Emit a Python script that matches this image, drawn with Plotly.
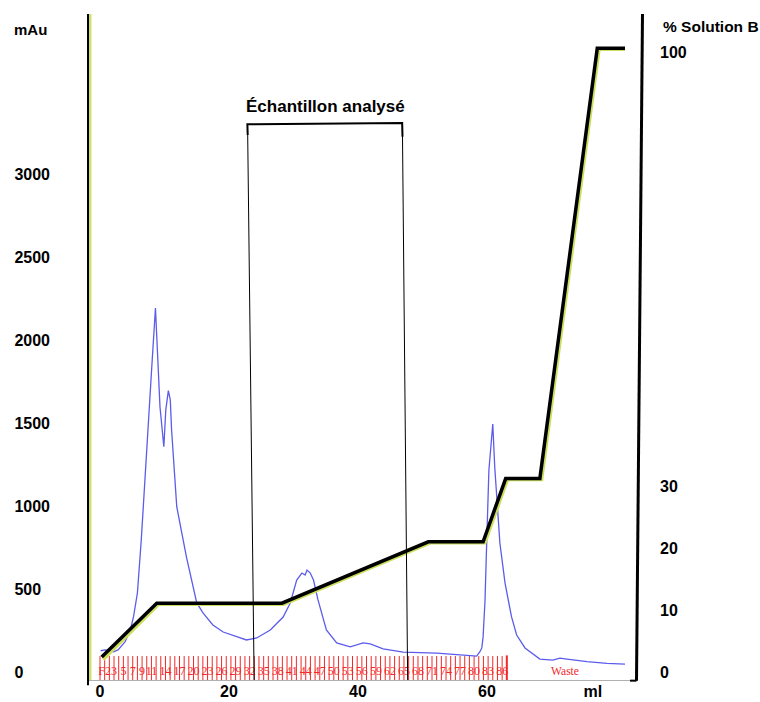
import plotly.graph_objects as go

# ---- UV absorbance trace (elution volume in ml, absorbance in mAu) ----
uv_ml = [0.1, 0.8, 2.1, 2.8, 3.9, 4.7, 5.2, 5.8, 6.4, 7.0, 8.0, 8.6, 8.9, 9.3, 9.9,
         10.2, 10.6, 10.9, 11.1, 11.6, 11.9, 12.6, 13.4, 15.0, 16.0, 17.5, 19.1,
         21.2, 22.7, 24.3, 26.4, 28.4, 29.5, 30.5, 31.3, 31.8, 32.1, 32.6, 33.1,
         33.8, 35.1, 36.7, 38.8, 40.8, 41.9, 43.9, 47.0, 52.2, 57.4, 58.4, 58.9,
         59.2, 59.4, 59.7, 60.0, 60.3, 60.9, 61.2, 62.0, 62.8, 63.8, 64.6, 65.9,
         68.2, 70.2, 71.3, 72.4, 75.5, 78.6, 81.4]
uv_mau = [128, 133, 122, 133, 183, 253, 333, 476, 795, 1157, 1819, 2193, 1960, 1598,
          1357, 1578, 1695, 1639, 1458, 1157, 996, 855, 694, 416, 355, 283, 241,
          213, 193, 205, 253, 331, 416, 554, 596, 584, 614, 596, 554, 434, 253,
          175, 151, 175, 169, 139, 120, 114, 96, 96, 122, 145, 213, 434, 837, 1217,
          1494, 1237, 777, 536, 333, 223, 145, 78, 72, 83, 77, 62, 52, 48]

# ---- Programmed gradient, % Solution B ----
grad_ml = [0.26, 8.8, 28.2, 50.9, 59.4, 62.9, 68.2, 77.1, 81.4]
grad_pct = [2.4, 11.1, 11.1, 21.0, 21.0, 31.2, 31.2, 100.6, 100.6]

# ---- Measured gradient (lags slightly behind the programmed one) ----
cond_ml = [0.5, 9.1, 28.5, 51.2, 59.7, 63.2, 68.5, 77.4, 81.4]
cond_pct = [2.0, 10.9, 10.9, 20.8, 20.8, 31.0, 31.0, 100.4, 100.4]

# ---- Fraction collector ----
fraction_volume_ml = 0.725
n_fractions = 87
fraction_label_nums = [1, 3, 5, 7, 9, 11, 14, 17, 20, 23, 26, 29, 32, 35, 38, 41,
                       44, 47, 50, 53, 56, 59, 62, 65, 68, 71, 74, 77, 80, 83, 86]
fraction_label_text = ["F2", "3", "5", "7", "9", "11", "14", "17", "20", "23", "26",
                       "29", "32", "35", "38", "41", "44", "47", "50", "53", "56",
                       "59", "62", "65", "68", "71", "74", "77", "80", "83", "86"]
waste_ml = 72.1

# ---- Axis ticks ----
x_tick_vals = [0, 20, 40, 60]
x_tick_text = ["0", "20", "40", "60"]
x_unit_pos = 76.4
y_left_ticks = [0, 500, 1000, 1500, 2000, 2500, 3000]
y_right_ticks = [0, 10, 20, 30, 100]

# Sample window analysed (ml)
sample_start_ml = (22.9, 23.9)
sample_end_ml = (46.9, 47.7)

FONT = "Liberation Sans, Arial, sans-serif"
SERIF = "Liberation Serif, Times New Roman, serif"
RED = "rgb(242,40,40)"

X_RANGE = [-1.86, 83.26]
Y_RANGE = [-48.2, 3964]
Y2_RANGE = [-1.29, 106.13]

fig = go.Figure()

# fraction boundary marks
frac_x, frac_y = [], []
for k in range(n_fractions):
    v = k * fraction_volume_ml
    frac_x += [v, v, None]
    frac_y += [96, Y_RANGE[0], None]
fig.add_trace(go.Scatter(x=frac_x, y=frac_y, mode="lines",
                         line=dict(color=RED, width=1), hoverinfo="skip",
                         showlegend=False))
end_v = n_fractions * fraction_volume_ml
fig.add_trace(go.Scatter(x=[end_v, end_v], y=[100, Y_RANGE[0]], mode="lines",
                         line=dict(color=RED, width=2), hoverinfo="skip",
                         showlegend=False))
fig.add_trace(go.Scatter(x=[n * fraction_volume_ml for n in fraction_label_nums],
                         y=[0] * len(fraction_label_nums), mode="text",
                         text=fraction_label_text,
                         textfont=dict(family=SERIF, size=12, color=RED),
                         hoverinfo="skip", showlegend=False))
fig.add_trace(go.Scatter(x=[waste_ml], y=[0], mode="text", text=["Waste"],
                         textfont=dict(family=SERIF, size=11.5, color=RED),
                         hoverinfo="skip", showlegend=False))

# UV trace
fig.add_trace(go.Scatter(x=uv_ml, y=uv_mau, mode="lines",
                         line=dict(color="rgb(92,92,236)", width=1.3),
                         showlegend=False))

# gradient traces on the right axis
fig.add_trace(go.Scatter(x=cond_ml, y=cond_pct, mode="lines", yaxis="y2",
                         line=dict(color="rgb(205,222,95)", width=3),
                         showlegend=False))
fig.add_trace(go.Scatter(x=grad_ml, y=grad_pct, mode="lines", yaxis="y2",
                         line=dict(color="black", width=3.5),
                         showlegend=False))

shapes = [
    # left axis line with its yellow-green companion
    dict(type="line", xref="paper", yref="paper", x0=0.0036, x1=0.0036, y0=0, y1=1,
         line=dict(color="rgb(212,224,110)", width=3), layer="below"),
    dict(type="line", xref="paper", yref="paper", x0=0, x1=0, y0=-0.008, y1=1,
         line=dict(color="black", width=2)),
    # right axis line
    dict(type="line", xref="paper", yref="paper", x0=1.010, x1=0.9991, y0=1, y1=-0.001,
         line=dict(color="black", width=3)),
    dict(type="line", xref="paper", yref="paper", x0=0.9873, x1=0.9991, y0=-0.001,
         y1=-0.001, line=dict(color="black", width=2)),
    # sample window bracket
    dict(type="line", xref="x", yref="y", x0=sample_start_ml[0], x1=sample_start_ml[1],
         y0=3235, y1=Y_RANGE[0], line=dict(color="black", width=1)),
    dict(type="line", xref="x", yref="y", x0=sample_end_ml[0], x1=sample_end_ml[1],
         y0=3235, y1=Y_RANGE[0], line=dict(color="black", width=1)),
    dict(type="path", xref="x", yref="y",
         path=f"M {sample_start_ml[0]},3235 L {sample_start_ml[0] - 0.05},3300 "
              f"L {sample_end_ml[0] - 0.05},3307 L {sample_end_ml[0]},3225",
         line=dict(color="black", width=2)),
]

annotations = [
    dict(text="<b>mAu</b>", xref="paper", yref="paper", x=-0.1056, y=0.976,
         showarrow=False, font=dict(family=FONT, size=15, color="black"),
         xanchor="center", yanchor="middle"),
    dict(text="<b>% Solution B</b>", xref="paper", yref="paper", x=1.0437, y=0.9805,
         showarrow=False, font=dict(family=FONT, size=15.5, color="black"),
         xanchor="left", yanchor="middle"),
    dict(text="<b>Échantillon analysé</b>", xref="x", yref="y",
         x=(sample_start_ml[0] + sample_end_ml[0]) / 2, y=3404, showarrow=False,
         font=dict(family=FONT, size=17, color="black"),
         xanchor="center", yanchor="middle"),
]

pad = "\u2007"
fig.update_layout(
    width=760, height=702,
    margin=dict(l=88, r=123, t=14, b=22, autoexpand=False),
    plot_bgcolor="white", paper_bgcolor="white",
    font=dict(family=FONT, color="black"),
    shapes=shapes, annotations=annotations,
    xaxis=dict(range=X_RANGE, showgrid=False, zeroline=False, automargin=False,
               showline=True, linecolor="rgb(176,176,176)", linewidth=1,
               tickvals=x_tick_vals + [x_unit_pos],
               ticktext=[f"<b>{t}</b>" for t in x_tick_text] + ["<b>ml</b>"],
               ticks="", ticklabelstandoff=-3,
               tickfont=dict(family=FONT, size=16, color="black")),
    yaxis=dict(range=Y_RANGE, showgrid=False, zeroline=False, showline=False,
               automargin=False, tickvals=y_left_ticks,
               ticktext=[f"<b>{str(v) + pad * (4 - len(str(v)))}</b>" for v in y_left_ticks],
               ticks="", ticklabelstandoff=37,
               tickfont=dict(family=FONT, size=16, color="black")),
    yaxis2=dict(range=Y2_RANGE, overlaying="y", side="right", showgrid=False,
                zeroline=False, showline=False, automargin=False,
                tickvals=y_right_ticks,
                ticktext=[f"<b>{v}</b>" for v in y_right_ticks],
                ticks="", ticklabelstandoff=22,
                tickfont=dict(family=FONT, size=16, color="black")),
    showlegend=False,
)

fig.write_html("out.html")
